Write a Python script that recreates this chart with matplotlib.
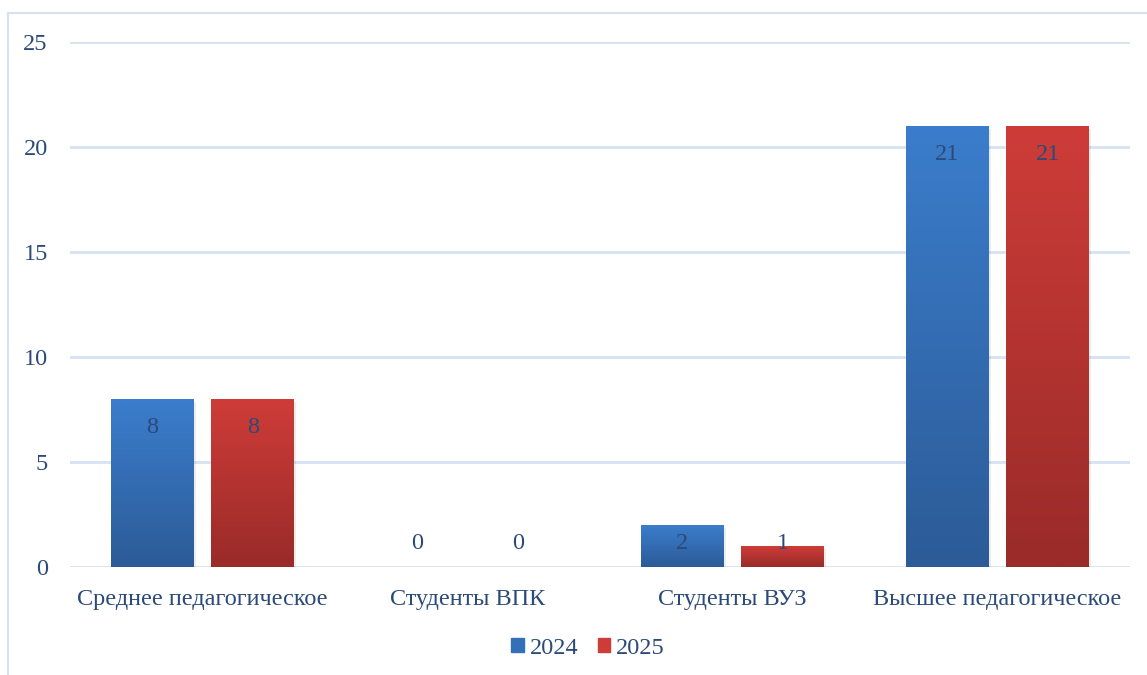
import numpy as np
import matplotlib.pyplot as plt
from matplotlib.colors import LinearSegmentedColormap
from matplotlib.lines import Line2D

categories = ["Среднее педагогическое", "Студенты ВПК", "Студенты ВУЗ", "Высшее педагогическое"]
values_2024 = [8, 0, 2, 21]
values_2025 = [8, 0, 1, 21]
series_names = ["2024", "2025"]

text_col = "#2B4A78"
grid_col = "#D6E2F2"
fs = 17.5

plt.rcParams['font.family'] = ['Liberation Serif', 'DejaVu Serif']

fig = plt.figure(figsize=(11.47, 6.75), dpi=100)
W, H = 1147, 675
ax = fig.add_axes([70 / W, 1 - 567 / H, 1060 / W, 525 / H])

x = np.arange(len(categories))
width = 0.313
offset = 0.19

# градиенты: (верх, низ)
grads = [("#3B7DCC", "#2C5B97"), ("#CE3C38", "#992B29")]

for k, vals in enumerate([values_2024, values_2025]):
    top_c, bot_c = grads[k]
    cmap = LinearSegmentedColormap.from_list("g%d" % k, [bot_c, top_c])
    pos = x + (offset if k else -offset)
    bars = ax.bar(pos, vals, width, color=top_c, zorder=3, linewidth=0)
    for b, v in zip(bars, vals):
        if v <= 0:
            continue
        x0, w = b.get_x(), b.get_width()
        # лёгкая тень
        ax.bar(x0 + w / 2 + 0.004, v, w + 0.008, bottom=-0.12, color="#000000",
               alpha=0.07, linewidth=0, zorder=2)
        grad = np.linspace(0, 1, 256).reshape(-1, 1)
        im = ax.imshow(grad, extent=(x0, x0 + w, 0, v), origin="lower",
                       cmap=cmap, aspect="auto", zorder=3.5)
        im.set_clip_path(b)
    for p, v in zip(pos, vals):
        ly = max(v - 1.35, 1.14)
        ax.text(p, ly, str(v), ha="center", va="center", fontsize=fs,
                color=text_col, zorder=5)

ax.set_xlim(-0.5, 3.5)
ax.set_ylim(0, 25)
ax.set_yticks(range(0, 26, 5))
ax.set_xticks(x)
ax.set_xticklabels(categories)
ax.tick_params(axis="both", length=0, labelsize=fs, labelcolor=text_col)
ax.tick_params(axis="y", pad=16)
ax.tick_params(axis="x", pad=16)
ax.grid(axis="y", color=grid_col, linewidth=2, zorder=0)
ax.set_axisbelow(True)
for s in ax.spines.values():
    s.set_visible(False)

handles = [plt.Rectangle((0, 0), 1, 1, color=grads[0][1]),
           plt.Rectangle((0, 0), 1, 1, color=grads[1][0])]
handles[0].set_color("#3470B8")
fig.legend(handles, series_names, loc="center", bbox_to_anchor=(588 / W, 1 - 648 / H),
           ncol=2, frameon=False, fontsize=fs, labelcolor=text_col,
           handlelength=0.5, handleheight=0.5, handletextpad=0.25, columnspacing=0.8)

# рамка диаграммы (слева и сверху)
fig.add_artist(Line2D([8 / W, 8 / W], [0, 1 - 13 / H], transform=fig.transFigure,
                      color=grid_col, linewidth=1.5))
fig.add_artist(Line2D([8 / W, 1], [1 - 13 / H, 1 - 13 / H], transform=fig.transFigure,
                      color=grid_col, linewidth=1.5))

fig.savefig("out.png", dpi=100)
